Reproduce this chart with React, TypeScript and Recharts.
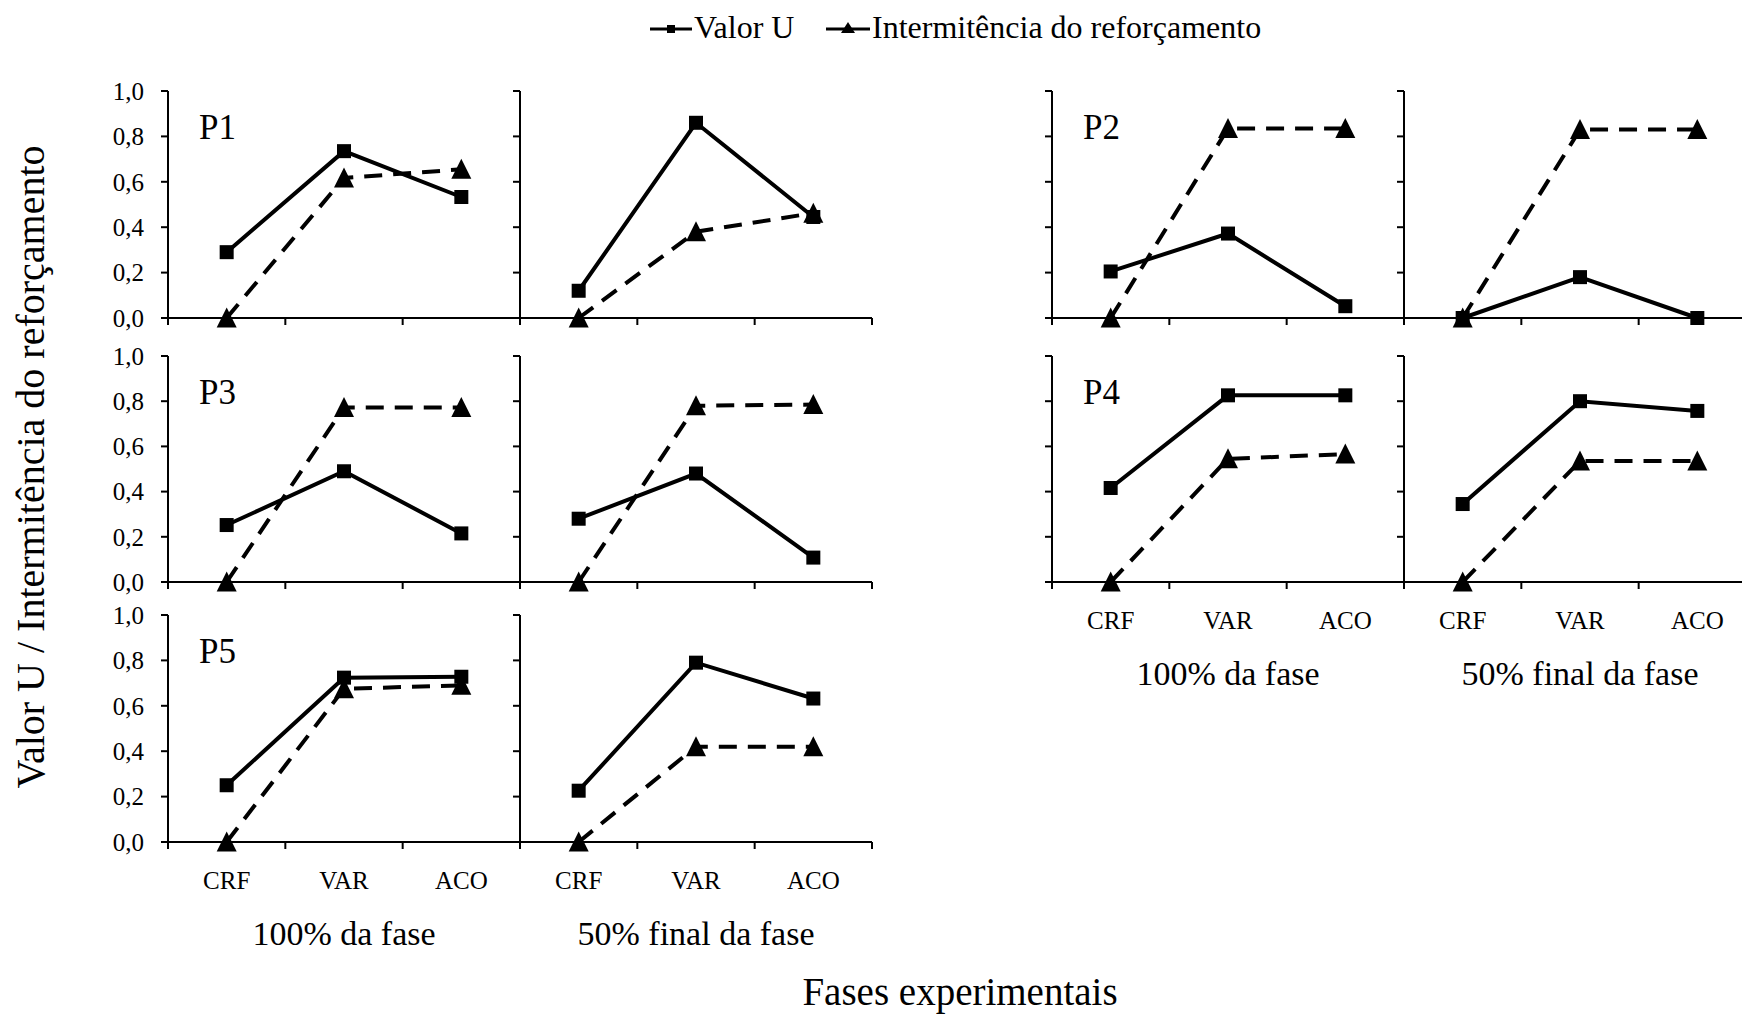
import React from 'react';
import { LineChart, Line, XAxis, YAxis } from 'recharts';

const FONT = "'Liberation Serif', 'Times New Roman', Times, serif";

// categorias do eixo X e ticks do eixo Y
const phases = ['CRF', 'VAR', 'ACO'];
const yTicks = [0, 0.2, 0.4, 0.6, 0.8, 1.0];

// valores (Valor U / Intermitência do reforçamento)
const p1FullU = [0.29, 0.735, 0.533];
const p1FullI = [0, 0.617, 0.655];
const p1HalfU = [0.12, 0.86, 0.445];
const p1HalfI = [0, 0.38, 0.462];

const p2FullU = [0.205, 0.372, 0.052];
const p2FullI = [0, 0.835, 0.835];
const p2HalfU = [0, 0.18, 0];
const p2HalfI = [0, 0.83, 0.83];

const p3FullU = [0.252, 0.49, 0.215];
const p3FullI = [0, 0.772, 0.772];
const p3HalfU = [0.28, 0.48, 0.108];
const p3HalfI = [0, 0.78, 0.785];

const p4FullU = [0.416, 0.826, 0.826];
const p4FullI = [0, 0.545, 0.566];
const p4HalfU = [0.345, 0.8, 0.757];
const p4HalfI = [0, 0.535, 0.535];

const p5FullU = [0.25, 0.724, 0.728];
const p5FullI = [0, 0.675, 0.69];
const p5HalfU = [0.226, 0.79, 0.632];
const p5HalfI = [0, 0.42, 0.42];

const build = (u: number[], intermit: number[]) =>
  phases.map((phase, i) => ({ phase, u: u[i], intermit: intermit[i] }));

const PLOT_W = 352;
const BAND = PLOT_W / phases.length;
const Y_AXIS_W = 70;
const TOP_M = 20;
const X_AXIS_H = 60;

type Panel = {
  key: string;
  u: number[];
  intermit: number[];
  axisX: number;
  top: number;
  bottom: number;
  yLabels: boolean;
  xLabels: boolean;
  title?: string;
  group?: string;
};

const rows = [
  { top: 91, bottom: 318 },
  { top: 356, bottom: 582 },
  { top: 615, bottom: 842 },
];
const cols = [168, 520, 1052, 1404];

const panels: Panel[] = [
  { key: 'p1a', u: p1FullU, intermit: p1FullI, axisX: cols[0], ...rows[0], yLabels: true, xLabels: false, title: 'P1' },
  { key: 'p1b', u: p1HalfU, intermit: p1HalfI, axisX: cols[1], ...rows[0], yLabels: false, xLabels: false },
  { key: 'p2a', u: p2FullU, intermit: p2FullI, axisX: cols[2], ...rows[0], yLabels: false, xLabels: false, title: 'P2' },
  { key: 'p2b', u: p2HalfU, intermit: p2HalfI, axisX: cols[3], ...rows[0], yLabels: false, xLabels: false },
  { key: 'p3a', u: p3FullU, intermit: p3FullI, axisX: cols[0], ...rows[1], yLabels: true, xLabels: false, title: 'P3' },
  { key: 'p3b', u: p3HalfU, intermit: p3HalfI, axisX: cols[1], ...rows[1], yLabels: false, xLabels: false },
  { key: 'p4a', u: p4FullU, intermit: p4FullI, axisX: cols[2], ...rows[1], yLabels: false, xLabels: true, title: 'P4', group: '100% da fase' },
  { key: 'p4b', u: p4HalfU, intermit: p4HalfI, axisX: cols[3], ...rows[1], yLabels: false, xLabels: true, group: '50% final da fase' },
  { key: 'p5a', u: p5FullU, intermit: p5FullI, axisX: cols[0], ...rows[2], yLabels: true, xLabels: true, title: 'P5', group: '100% da fase' },
  { key: 'p5b', u: p5HalfU, intermit: p5HalfI, axisX: cols[1], ...rows[2], yLabels: false, xLabels: true, group: '50% final da fase' },
];

const SquareDot = (props: any) => {
  const { cx, cy } = props;
  if (cx == null || cy == null) return <g key={props.key} />;
  return <rect key={props.key} x={cx - 7} y={cy - 7} width={14} height={14} fill="#000" />;
};

const TriangleDot = (props: any) => {
  const { cx, cy } = props;
  if (cx == null || cy == null) return <g key={props.key} />;
  const w = 20;
  const h = 19;
  return (
    <polygon
      key={props.key}
      points={`${cx},${cy - h / 2 - 1} ${cx + w / 2},${cy + h / 2} ${cx - w / 2},${cy + h / 2}`}
      fill="#000"
    />
  );
};

const PhaseTick = (props: any) => {
  const { x, y, payload, showLabel } = props;
  const index = props.index ?? payload?.index ?? 0;
  const axisY = y - 7;
  return (
    <g>
      <line x1={x - BAND / 2} y1={axisY} x2={x - BAND / 2} y2={axisY + 7} stroke="#000" strokeWidth={2} />
      {index === phases.length - 1 && (
        <line x1={x + BAND / 2} y1={axisY} x2={x + BAND / 2} y2={axisY + 7} stroke="#000" strokeWidth={2} />
      )}
      {showLabel && (
        <text x={x} y={axisY + 47} textAnchor="middle" fontSize={25} fontFamily={FONT} fill="#000">
          {payload.value}
        </text>
      )}
    </g>
  );
};

const PanelChart = ({ p }: { p: Panel }) => {
  const plotH = p.bottom - p.top;
  const width = Y_AXIS_W + PLOT_W + 10;
  const height = TOP_M + plotH + X_AXIS_H;
  return (
    <div style={{ position: 'absolute', left: p.axisX - Y_AXIS_W, top: p.top - TOP_M, width, height }}>
      <LineChart
        width={width}
        height={height}
        data={build(p.u, p.intermit)}
        margin={{ top: TOP_M, right: 10, bottom: 0, left: 0 }}
      >
        <XAxis
          dataKey="phase"
          height={X_AXIS_H}
          padding={{ left: BAND / 2, right: BAND / 2 }}
          axisLine={{ stroke: '#000', strokeWidth: 2 }}
          tickLine={false}
          tickSize={7}
          tickMargin={0}
          interval={0}
          tick={(t: any) => <PhaseTick {...t} showLabel={p.xLabels} />}
        />
        <YAxis
          type="number"
          domain={[0, 1]}
          ticks={yTicks}
          interval={0}
          width={Y_AXIS_W}
          tickSize={7}
          tickMargin={17}
          axisLine={{ stroke: '#000', strokeWidth: 2 }}
          tickLine={{ stroke: '#000', strokeWidth: 2 }}
          tick={{ fill: '#000', fontSize: 25, fontFamily: FONT }}
          tickFormatter={(v: number) => (p.yLabels ? v.toFixed(1).replace('.', ',') : '')}
        />
        <Line
          dataKey="intermit"
          stroke="#000"
          strokeWidth={4}
          strokeDasharray="18 11"
          dot={TriangleDot}
          activeDot={false}
          isAnimationActive={false}
        />
        <Line
          dataKey="u"
          stroke="#000"
          strokeWidth={4}
          dot={SquareDot}
          activeDot={false}
          isAnimationActive={false}
        />
      </LineChart>
    </div>
  );
};

const App = () => {
  return (
    <div
      style={{
        position: 'fixed',
        left: 0,
        top: 0,
        width: 1742,
        height: 1014,
        overflow: 'hidden',
        background: '#fff',
        fontFamily: FONT,
      }}
    >
      {panels.map((p) => (
        <PanelChart key={p.key} p={p} />
      ))}
      <svg
        width={1742}
        height={1014}
        style={{ position: 'absolute', left: 0, top: 0, pointerEvents: 'none' }}
        fontFamily={FONT}
      >
        {/* legenda */}
        <line x1={650} y1={29} x2={692} y2={29} stroke="#000" strokeWidth={3} />
        <rect x={667} y={25} width={8} height={8} fill="#000" />
        <text x={694} y={38} fontSize={32} fill="#000">Valor U</text>
        <line x1={826} y1={29} x2={870} y2={29} stroke="#000" strokeWidth={3} />
        <polygon points="848,22 855,33 841,33" fill="#000" />
        <text x={872} y={38} fontSize={32} fill="#000">Intermitência do reforçamento</text>

        {panels.map((p) => (
          <g key={p.key}>
            {p.title && (
              <text x={p.axisX + 31} y={p.top + 48} fontSize={35} fill="#000">
                {p.title}
              </text>
            )}
            {p.group && (
              <text x={p.axisX + PLOT_W / 2} y={p.bottom + 103} fontSize={34} textAnchor="middle" fill="#000">
                {p.group}
              </text>
            )}
          </g>
        ))}

        <text transform="translate(44,467) rotate(-90)" textAnchor="middle" fontSize={40} fill="#000">
          Valor U / Intermitência do reforçamento
        </text>
        <text x={960} y={1005} textAnchor="middle" fontSize={39} fill="#000">
          Fases experimentais
        </text>
      </svg>
    </div>
  );
};

export default App;
